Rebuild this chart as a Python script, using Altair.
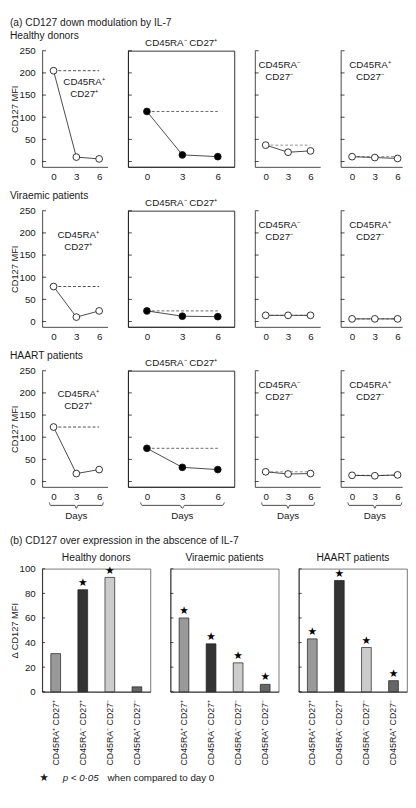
import altair as alt
import pandas as pd

# ---------------- data ----------------
days = [0, 3, 6]
subsets = ["CD45RA⁺ CD27⁺", "CD45RA⁻ CD27⁺", "CD45RA⁻ CD27⁻", "CD45RA⁺ CD27⁻"]
groups = ["Healthy donors", "Viraemic patients", "HAART patients"]
subset_lines = [["CD45RA⁺", "CD27⁺"], ["CD45RA⁻", "CD27⁺"], ["CD45RA⁻", "CD27⁻"], ["CD45RA⁺", "CD27⁻"]]

# CD127 MFI at days 0, 3, 6 (one list per subset)
healthy_mfi = [[205, 10, 6], [113, 15, 11], [37, 21, 24], [11, 9, 7]]
viraemic_mfi = [[79, 10, 24], [24, 12, 11], [14, 14, 14], [6, 6, 6]]
haart_mfi = [[123, 18, 27], [75, 32, 27], [22, 17, 18], [14, 13, 15]]
mfi_ticks = [0, 50, 100, 150, 200, 250]

# Delta CD127 MFI (no IL-7)
delta_healthy = [31, 83, 93, 4]
delta_viraemic = [60, 39, 23.5, 6]
delta_haart = [43, 90.5, 36, 9]
sig_healthy = [False, True, True, False]
sig_viraemic = [True, True, True, True]
sig_haart = [True, True, True, True]
delta_ticks = [0, 20, 40, 60, 80, 100]

# ---------------- styles / layout ----------------
FONT = "Liberation Sans"
INK = "#1a1a1a"
bar_colors = ["#999999", "#333333", "#cccccc", "#666666"]
dash_colors = ["#333333", "#555555", "#888888", "#777777"]
A_W = [67, 109, 67, 63]
A_H = 119
A_XDOM = [[-1.5, 7.1], [-1.6, 7.4], [-1.45, 7.3], [-1.5, 6.6]]
Y_DOM = [-12, 250]
LEFT = -33
label_pos = {0: [(43, 27), (37, 20), (37, 19)], 2: [(25, 10)] * 3, 3: [(30, 10)] * 3}
brace_x = [-0.55, -0.4, 2.8, 3.0, 3.2, 6.4, 6.55]
brace_dy = [16, 19, 19, 22, 19, 19, 16]
B_W, B_H = 111, 126

one = pd.DataFrame({"k": [0]})


def txt(text, x, y, size=10, align="left", baseline="middle", style="normal", font=FONT):
    return alt.Chart(one).mark_text(
        text=text, align=align, baseline=baseline, fontSize=size, fontStyle=style,
        font=font, color=INK, lineHeight=12
    ).encode(x=alt.value(x), y=alt.value(y))


def inward_ticks(ticks, yscale, yaxis, n):
    return alt.Chart(pd.DataFrame({"t": ticks})).mark_rule(color=INK, strokeWidth=0.8).encode(
        y=alt.Y("t:Q", scale=yscale, axis=yaxis), x=alt.value(0), x2=alt.value(n)
    )


def line_panel(r, c, vals):
    w = A_W[c]
    xs = alt.Scale(domain=A_XDOM[c], nice=False, zero=False)
    ys = alt.Scale(domain=Y_DOM, nice=False, zero=False)
    xaxis = alt.Axis(values=days, ticks=False, tickSize=0, labelPadding=5, title=None,
                     grid=False, labelFlush=False, labelOverlap=False, format="d")
    if c == 0:
        yaxis = alt.Axis(values=mfi_ticks, ticks=False, tickSize=0, labelPadding=7,
                         title="CD127 MFI", titlePadding=0, titleFontSize=9.5,
                         titleFontWeight="normal", grid=False, labelOverlap=False)
    else:
        yaxis = alt.Axis(values=mfi_ticks, ticks=False, tickSize=0, labels=False,
                         title=None, grid=False)
    df = pd.DataFrame({"day": days, "mfi": vals})
    base_df = pd.DataFrame({"d0": [days[0]], "d1": [days[-1]], "y0": [vals[0]]})
    X = lambda f: alt.X(f, scale=xs, axis=xaxis)
    Y = lambda f: alt.Y(f, scale=ys, axis=yaxis)
    dash = alt.Chart(base_df).mark_rule(strokeDash=[3, 2], color=dash_colors[c], strokeWidth=0.9).encode(
        x=X("d0:Q"), x2="d1:Q", y=Y("y0:Q")
    )
    line = alt.Chart(df).mark_line(color=INK, strokeWidth=0.8).encode(x=X("day:Q"), y=Y("mfi:Q"))
    pts = alt.Chart(df).mark_point(
        shape="circle", filled=True, size=48, opacity=1,
        fill="black" if c == 1 else "white", stroke=INK, strokeWidth=0.9
    ).encode(x=X("day:Q"), y=Y("mfi:Q"))
    layers = [dash, line, pts, inward_ticks(mfi_ticks, ys, yaxis, 4)]
    if c == 1:
        layers.append(txt(subsets[c], w / 2, -8, align="center"))
    else:
        lx, ly = label_pos[c][r]
        layers.append(txt(subset_lines[c], lx, ly, align="center", baseline="top"))
    if c == 0:
        layers.append(txt(groups[r], LEFT, -15.5, size=10.5))
        if r == 0:
            layers.append(txt("(a) CD127 down modulation by IL-7", LEFT, -33.5, size=10.5, baseline="top"))
    main = alt.layer(*layers)
    props = dict(width=w, height=A_H)
    if r == 2:
        bdf = pd.DataFrame({"bx": brace_x, "by": brace_dy, "i": list(range(len(brace_x)))})
        brace = alt.Chart(bdf).mark_line(color=INK, strokeWidth=0.8, interpolate="monotone").encode(
            x=X("bx:Q"),
            y=alt.Y("by:Q", scale=alt.Scale(domain=[0, 40], range=[A_H, A_H + 40], nice=False, zero=False), axis=None),
            order="i:Q"
        )
        days_lbl = alt.Chart(one).mark_text(text="Days", fontSize=10, font=FONT, color=INK,
                                            baseline="middle", align="center").encode(
            x=alt.X(datum=3, scale=xs, axis=xaxis), y=alt.value(A_H + 30)
        )
        main = alt.layer(main, brace, days_lbl).resolve_scale(y="independent")
    if c == 1:
        props["view"] = alt.ViewBackground(stroke=INK, strokeWidth=0.9)
    return main.properties(**props)


def bar_panel(i, vals, sig):
    df = pd.DataFrame({"subset": subsets, "delta": vals, "sig": sig})
    xs = alt.Scale(domain=subsets, paddingInner=0.64, paddingOuter=0.32)
    ys = alt.Scale(domain=[0, 100], nice=False, zero=True)
    xaxis = alt.Axis(labelAngle=270, ticks=False, tickSize=0, labelPadding=8, title=None,
                     labelOverlap=False, labelLimit=200, grid=False, labelFontSize=9)
    if i == 0:
        yaxis = alt.Axis(values=delta_ticks, ticks=False, tickSize=0, labelPadding=7,
                         title="Δ CD127 MFI", titlePadding=0, titleFontSize=9.5,
                         titleFontWeight="normal", grid=False, labelOverlap=False)
    else:
        yaxis = alt.Axis(values=delta_ticks, ticks=False, tickSize=0, labels=False, title=None, grid=False)
    X = alt.X("subset:N", scale=xs, axis=xaxis, sort=subsets)
    Y = alt.Y("delta:Q", scale=ys, axis=yaxis)
    bars = alt.Chart(df).mark_bar(stroke=INK, strokeWidth=0.7).encode(
        x=X, y=Y,
        fill=alt.Fill("subset:N", scale=alt.Scale(domain=subsets, range=bar_colors), legend=None),
    )
    stars = alt.Chart(df).transform_filter("datum.sig").mark_text(
        text="★", fontSize=11, dy=-7, font="DejaVu Sans", color="black"
    ).encode(x=X, y=Y)
    layers = [bars, stars, inward_ticks(delta_ticks, ys, yaxis, 3),
              txt(groups[i], B_W / 2, -11, size=10.5, align="center")]
    if i == 0:
        layers.append(txt("(b) CD127 over expression in the abscence of IL-7", LEFT, -33.5, size=10.5, baseline="top"))
        layers.append(txt("★", 2, 215, size=11, align="center", font="DejaVu Sans"))
        layers.append(txt("p < 0·05", 21, 215, style="italic"))
        layers.append(txt("when compared to day 0", 67, 215))
    return alt.layer(*layers).properties(
        width=B_W, height=B_H, view=alt.ViewBackground(stroke="#555555", strokeWidth=0.8)
    )


panels = []
for r, data in enumerate([healthy_mfi, viraemic_mfi, haart_mfi]):
    for c in range(4):
        panels.append(line_panel(r, c, data[c]))

gridA = alt.concat(*panels, columns=4, spacing={"row": 45, "column": 21}, bounds="flush", align="each")
rowB = alt.hconcat(
    bar_panel(0, delta_healthy, sig_healthy),
    bar_panel(1, delta_viraemic, sig_viraemic),
    bar_panel(2, delta_haart, sig_haart),
    spacing=20.5, bounds="flush",
)

chart = alt.vconcat(gridA, rowB, spacing=14).properties(padding=0).configure(
    font=FONT
).configure_view(stroke="transparent").configure_axis(
    labelFont=FONT, titleFont=FONT, labelColor=INK, titleColor=INK,
    domainColor=INK, domainWidth=0.8, labelFontSize=10, grid=False
)

chart.save("out.html", embed_options={"renderer": "svg", "actions": False})
